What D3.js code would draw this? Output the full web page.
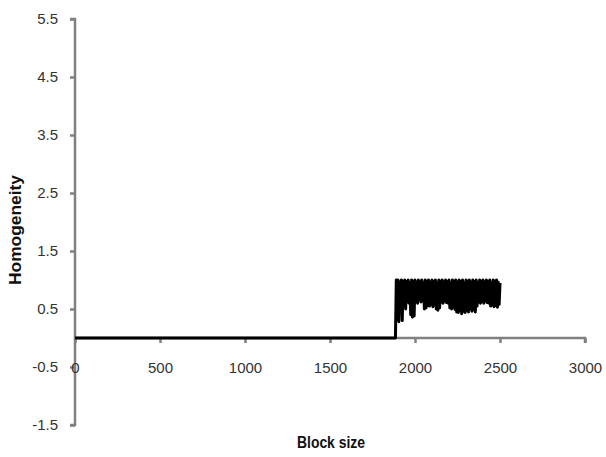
<!DOCTYPE html>
<html>
<head>
<meta charset="utf-8">
<script src="https://cdn.jsdelivr.net/npm/d3@7"></script>
<style>
  html, body { margin: 0; padding: 0; background: #fff; }
  svg { display: block; }
</style>
</head>
<body>
<svg id="chart" width="606" height="457"></svg>
<script>
// ---- data ----
const xTicks = [0, 500, 1000, 1500, 2000, 2500, 3000];
const yTicks = [-1.5, -0.5, 0.5, 1.5, 2.5, 3.5, 4.5, 5.5];
const xTitle = "Block size";
const yTitle = "Homogeneity";
// flat part of the series
const flatBlockSizes = [0, 1880];
const flatHomogeneity = [0, 0];
// noisy part: block size starts at 1885, step 5
const noisyStart = 1885;
const noisyStep = 5;
const noisyHomogeneity = [
  0, 1.0, 0.32, 1.0, 0.28, 0.96, 0.5, 1.0, 0.3, 0.98,
  0.55, 1.0, 0.5, 0.97, 0.62, 1.0, 0.6, 0.95, 0.4, 1.0,
  0.36, 0.98, 0.38, 1.0, 0.63, 0.96, 0.6, 1.0, 0.66, 0.97,
  0.62, 1.0, 0.64, 0.95, 0.5, 1.0, 0.52, 0.98, 0.56, 1.0,
  0.55, 0.96, 0.58, 1.0, 0.54, 0.97, 0.57, 1.0, 0.5, 0.95,
  0.48, 1.0, 0.52, 0.98, 0.62, 1.0, 0.6, 0.96, 0.64, 1.0,
  0.61, 0.97, 0.6, 1.0, 0.52, 0.95, 0.5, 1.0, 0.53, 0.98,
  0.49, 1.0, 0.45, 0.96, 0.44, 1.0, 0.47, 0.97, 0.42, 1.0,
  0.46, 0.95, 0.44, 1.0, 0.48, 0.98, 0.45, 1.0, 0.5, 0.96,
  0.46, 1.0, 0.49, 0.97, 0.45, 1.0, 0.55, 0.95, 0.62, 1.0,
  0.6, 0.98, 0.63, 1.0, 0.6, 0.96, 0.64, 1.0, 0.61, 0.97,
  0.6, 1.0, 0.55, 0.95, 0.57, 1.0, 0.54, 0.98, 0.56, 1.0,
  0.53, 0.96, 0.58, 0.95
];

// ---- build series ----
const series = flatBlockSizes.map((x, i) => ({x: x, y: flatHomogeneity[i]}))
  .concat(noisyHomogeneity.map((v, i) => ({x: noisyStart + i * noisyStep, y: v})));

// ---- layout ----
const svg = d3.select("#chart");
const fontFam = "'Liberation Sans', Arial, sans-serif";
const axisColor = "#808080";
const textColor = "#333";

const x = d3.scaleLinear().domain([0, 3000]).range([75, 585]);
const y = d3.scaleLinear().domain([-1.5, 5.5]).range([425, 19]);

// Y axis
const yAxis = d3.axisLeft(y).tickValues(yTicks).tickSize(5).tickFormat(d => d.toFixed(1));
const gy = svg.append("g").attr("transform", `translate(${x(0)},0)`).call(yAxis);
gy.select(".domain").attr("stroke", axisColor).attr("stroke-width", 2.5).attr("d", `M-5,${y(5.5)}H0V${y(-1.5)}H-5`);
gy.selectAll(".tick line").attr("stroke", axisColor).attr("stroke-width", 2.5);
gy.selectAll(".tick text").attr("x", -17).attr("fill", textColor)
  .style("font-family", fontFam).style("font-size", "15px");

// X axis
const xAxis = d3.axisBottom(x).tickValues(xTicks).tickSize(5).tickFormat(d => String(d));
const gx = svg.append("g").attr("transform", `translate(0,${y(0)})`).call(xAxis);
gx.select(".domain").attr("stroke", axisColor).attr("stroke-width", 2.5).attr("d", `M${x(0)},0H${x(3000)}V5`);
gx.selectAll(".tick line").attr("stroke", axisColor).attr("stroke-width", 2.5);
gx.selectAll(".tick text").attr("y", 0).attr("dy", "35px").attr("fill", textColor)
  .style("font-family", fontFam).style("font-size", "15px");

// Line
const line = d3.line().x(d => x(d.x)).y(d => y(d.y));
svg.append("path").datum(series)
  .attr("d", line)
  .attr("fill", "none")
  .attr("stroke", "#000")
  .attr("stroke-width", 3)
  .attr("stroke-linejoin", "round");

// Titles
svg.append("text").attr("x", 331).attr("y", 448)
  .attr("text-anchor", "middle").attr("fill", "#111")
  .style("font-family", fontFam).style("font-size", "16px").style("font-weight", "bold")
  .attr("textLength", 68).attr("lengthAdjust", "spacingAndGlyphs")
  .text(xTitle);
svg.append("text").attr("transform", "translate(21,230) rotate(-90)")
  .attr("text-anchor", "middle").attr("fill", "#111")
  .style("font-family", fontFam).style("font-size", "16px").style("font-weight", "bold")
  .attr("textLength", 110).attr("lengthAdjust", "spacingAndGlyphs")
  .text(yTitle);
</script>
</body>
</html>
